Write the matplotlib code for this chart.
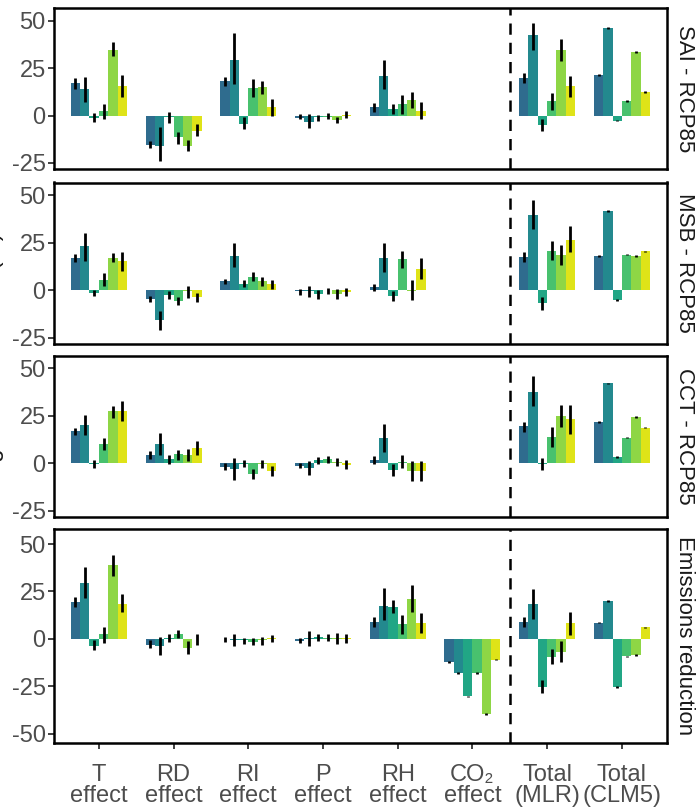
import numpy as np
import matplotlib
matplotlib.use("Agg")
import matplotlib.pyplot as plt

plt.rcParams['font.family'] = ['Liberation Sans', 'DejaVu Sans']

categories = ["T\neffect", "RD\neffect", "RI\neffect", "P\neffect", "RH\neffect",
              "CO\u2082\neffect", "Total\n(MLR)", "Total\n(CLM5)"]
panels = ["SAI - RCP85", "MSB - RCP85", "CCT - RCP85", "Emissions reduction"]
nan = float("nan")

# values [category][series]; lo/hi = error bar ends
sai_val = [[17.3, 14.1, -1.1, 2.5, 34.7, 15.7],
           [-15.5, -15.8, -0.5, -11.4, -15.8, -7.9],
           [18.3, 29.4, -4.4, 14.6, 15.1, 4.6],
           [-1.2, -3.3, -1.0, -0.5, -2.1, 0.5],
           [4.6, 21.0, 3.5, 6.2, 8.3, 2.5],
           [nan, nan, nan, nan, nan, nan],
           [19.9, 42.3, -4.8, 7.7, 34.7, 15.7],
           [21.5, 46.3, -2.6, 7.7, 33.6, 12.5]]
sai_lo = [[14.3, 7.2, -3.2, -1.8, 31.2, 9.7],
          [-17.3, -24.1, -4.0, -14.8, -18.5, -10.7],
          [15.7, 16.7, -7.2, 9.7, 11.3, 0.0],
          [-1.9, -6.3, -2.8, -1.8, -4.0, -1.1],
          [1.9, 13.9, 0.7, 1.1, 4.2, -1.9],
          [nan, nan, nan, nan, nan, nan],
          [17.4, 34.7, -7.9, 3.0, 29.0, 9.7],
          [21.1, 45.9, -3.0, 7.3, 33.2, 12.1]]
sai_hi = [[20.1, 20.6, 1.2, 6.3, 38.6, 21.5],
          [-13.2, -5.8, 2.1, -8.8, -12.9, -4.4],
          [20.6, 43.5, -0.9, 19.2, 18.5, 8.6],
          [0.7, 0.7, 0.4, 1.2, -0.5, 2.5],
          [6.9, 29.2, 6.0, 10.7, 12.3, 7.0],
          [nan, nan, nan, nan, nan, nan],
          [22.7, 48.8, -1.9, 12.1, 40.3, 21.0],
          [21.9, 46.7, -2.2, 8.1, 34.0, 12.9]]

msb_val = [[16.9, 23.2, -1.4, 5.3, 16.9, 15.3],
           [-4.6, -15.7, -2.6, -5.6, -0.5, -3.5],
           [4.8, 18.0, 3.5, 6.9, 4.8, 3.2],
           [-0.3, -0.5, -1.9, 0.3, -1.9, -1.0],
           [1.6, 16.9, -3.0, 16.4, -0.3, 11.1],
           [nan, nan, nan, nan, nan, nan],
           [17.4, 39.6, -6.7, 20.6, 18.5, 26.4],
           [18.0, 41.7, -5.1, 18.8, 18.1, 20.6]]
msb_lo = [[14.8, 15.3, -3.2, 2.1, 14.8, 10.4],
          [-6.3, -20.8, -4.6, -7.6, -4.0, -6.3],
          [3.5, 12.1, 1.8, 4.8, 2.1, 0.7],
          [-2.3, -3.7, -4.4, -1.9, -4.4, -3.2],
          [-0.2, 9.7, -5.8, 11.8, -4.9, 6.0],
          [nan, nan, nan, nan, nan, nan],
          [15.0, 32.4, -10.2, 15.8, 13.2, 20.1],
          [17.6, 41.3, -5.5, 18.4, 17.7, 20.2]]
msb_hi = [[19.2, 30.3, 0.4, 9.2, 19.9, 20.2],
          [-3.2, -10.7, -0.2, -3.3, 2.1, -1.1],
          [6.2, 25.0, 5.6, 9.5, 7.0, 5.6],
          [0.7, 2.1, 0.4, 1.4, 0.9, 1.2],
          [3.5, 25.0, -0.5, 21.0, 5.6, 16.9],
          [nan, nan, nan, nan, nan, nan],
          [20.1, 47.5, -3.7, 25.9, 23.8, 33.8],
          [18.4, 42.1, -4.7, 19.2, 18.5, 21.0]]

cct_val = [[16.9, 20.1, -0.3, 10.0, 27.5, 27.5],
           [4.2, 10.0, 2.1, 4.8, 4.2, 7.9],
           [-1.9, -2.8, -0.3, -5.8, -0.3, -4.0],
           [-1.6, -2.5, 1.6, 2.1, 0.8, -0.8],
           [1.6, 13.2, -3.3, 0.5, -4.0, -4.0],
           [nan, nan, nan, nan, nan, nan],
           [19.5, 37.5, -0.3, 13.7, 25.2, 23.2],
           [21.7, 42.1, 3.5, 13.6, 24.3, 18.8]]
cct_lo = [[15.1, 14.8, -2.5, 6.9, 24.1, 22.2],
          [2.1, 4.2, -0.2, 1.9, 1.2, 4.2],
          [-3.3, -8.6, -1.9, -8.1, -2.5, -6.7],
          [-2.6, -6.3, -0.2, 0.2, -1.1, -2.8],
          [-0.5, 6.0, -6.7, -2.3, -9.0, -9.0],
          [nan, nan, nan, nan, nan, nan],
          [16.5, 30.1, -3.3, 8.6, 19.2, 15.7],
          [21.3, 41.7, 3.1, 13.2, 23.9, 18.4]]
cct_hi = [[18.8, 25.7, 1.9, 13.6, 30.3, 32.7],
          [6.3, 16.2, 4.2, 7.0, 7.4, 11.6],
          [0.2, 3.0, 1.9, -3.0, 1.6, -1.2],
          [0.2, 1.1, 3.3, 4.0, 3.0, 1.6],
          [3.7, 21.0, -0.2, 4.4, 1.4, 1.4],
          [nan, nan, nan, nan, nan, nan],
          [21.8, 46.0, 3.0, 19.0, 31.0, 31.0],
          [22.1, 42.5, 3.9, 14.0, 24.7, 19.2]]

emi_val = [[19.5, 29.6, -3.7, 2.5, 38.7, 18.4],
           [-3.2, -3.7, 0.5, 2.5, -4.8, -0.3],
           [-0.3, -0.8, -0.5, -1.5, -0.8, 0.3],
           [-1.0, 0.3, 1.0, 0.7, 0.5, 0.5],
           [9.0, 17.4, 16.8, 7.8, 21.1, 8.3],
           [-12.2, -18.1, -30.3, -18.1, -39.7, -11.0],
           [8.9, 18.6, -25.2, -9.6, -6.9, 8.3],
           [8.5, 20.0, -25.4, -9.2, -8.5, 6.0]]
emi_lo = [[16.8, 21.5, -6.0, -2.0, 33.3, 14.0],
          [-5.0, -8.7, -1.6, 0.2, -7.8, -3.4],
          [-1.6, -3.9, -2.5, -3.4, -3.0, -1.6],
          [-2.1, -3.9, -1.2, -1.4, -2.5, -2.0],
          [6.4, 9.9, 13.5, 2.8, 14.4, 3.2],
          [-12.6, -18.5, -30.7, -18.5, -40.1, -11.4],
          [6.0, 10.3, -28.5, -13.5, -12.2, 2.0],
          [8.1, 19.6, -25.8, -9.6, -8.9, 5.6]]
emi_hi = [[22.2, 37.9, -0.7, 6.4, 44.0, 23.6],
          [-0.7, 1.1, 2.5, 4.6, -1.1, 2.3],
          [1.2, 2.5, 0.7, 0.2, 1.1, 1.8],
          [0.7, 3.9, 2.5, 2.3, 3.2, 2.5],
          [11.7, 26.8, 20.6, 12.6, 28.5, 13.5],
          [-11.8, -17.7, -29.9, -17.7, -39.3, -10.6],
          [11.7, 26.2, -21.6, -5.1, -1.2, 14.4],
          [8.9, 20.4, -25.0, -8.8, -8.1, 6.4]]

panel_vals = [sai_val, msb_val, cct_val, emi_val]
panel_los = [sai_lo, msb_lo, cct_lo, emi_lo]
panel_his = [sai_hi, msb_hi, cct_hi, emi_hi]
panel_ylims = [(-28.2, 56.8), (-28.2, 56.8), (-28.2, 56.8), (-54.8, 57.8)]
panel_yticks = [[-25, 0, 25, 50], [-25, 0, 25, 50], [-25, 0, 25, 50], [-50, -25, 0, 25, 50]]

colors = [matplotlib.cm.viridis(v) for v in np.linspace(0.35, 0.95, 6)]

W, H = 698, 809
fig = plt.figure(figsize=(W / 100, H / 100), dpi=100)

# panel boxes in pixels (top, bottom)
boxes = [(8, 169), (182.5, 344), (355.5, 517), (529.3, 742.7)]
left_px, right_px = 54, 666.7

nser = 6
group_w = 0.75
bw = group_w / nser
x = np.arange(1, len(categories) + 1)
tick_color = '#4D4D4D'
fs = 17

for p in range(4):
    top, bot = boxes[p]
    ax = fig.add_axes([left_px / W, (H - bot) / H, (right_px - left_px) / W, (bot - top) / H])
    vals = np.array(panel_vals[p], dtype=float)
    los = np.array(panel_los[p], dtype=float)
    his = np.array(panel_his[p], dtype=float)
    for s in range(nser):
        xs = x + (s - (nser - 1) / 2) * bw
        ax.bar(xs, np.nan_to_num(vals[:, s]), width=bw, color=colors[s], linewidth=0, zorder=2)
        ok = ~np.isnan(los[:, s])
        ax.vlines(xs[ok], los[ok, s], his[ok, s], color='black', linewidth=2.0, zorder=3)
    ax.axvline(6.5, color='black', linewidth=1.8, linestyle=(0, (4.5, 3.2)), zorder=1)
    ax.set_xlim(0.4, 8.6)
    ax.set_ylim(*panel_ylims[p])
    ax.set_yticks(panel_yticks[p])
    ax.set_yticklabels([str(t) for t in panel_yticks[p]])
    for sp in ax.spines.values():
        sp.set_linewidth(1.8)
        sp.set_color('black')
    ax.tick_params(axis='y', length=4, width=1.3, color='#333333', labelsize=fs,
                   labelcolor=tick_color, pad=2)
    if p == 3:
        ax.set_xticks(x)
        ax.set_xticklabels(categories, linespacing=0.95)
        ax.tick_params(axis='x', length=4, width=1.3, color='#333333', labelsize=fs,
                       labelcolor=tick_color, pad=11)
    else:
        ax.set_xticks([])
    ax.annotate(panels[p], xy=(1, 0.5), xycoords='axes fraction', xytext=(13, 0),
                textcoords='offset points', rotation=-90, ha='center', va='center',
                fontsize=16, color='#1A1A1A')

fig.text(4 / W, 1 - 375 / H, "Change in burned area (%)", rotation=90, ha='right',
         va='center', fontsize=fs, color='#1A1A1A')

fig.savefig("out.png", dpi=100)
